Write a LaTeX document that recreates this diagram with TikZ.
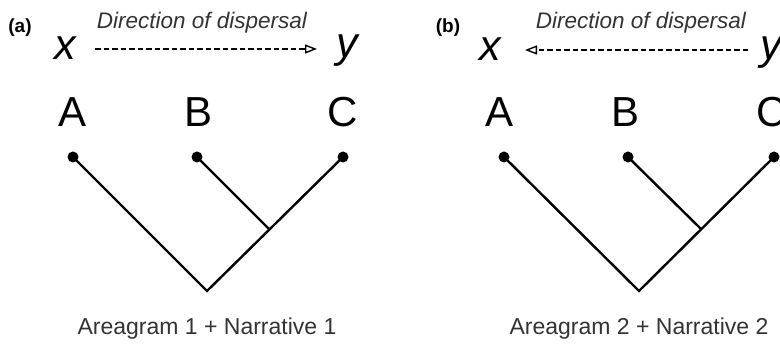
\documentclass[tikz,border=0pt]{standalone}
\usepackage{fontspec}
\setmainfont{Liberation Sans}
\usetikzlibrary{arrows.meta}

\definecolor{inkgray}{HTML}{333333}

\begin{document}
\begin{tikzpicture}[x=1pt,y=-1pt,
  panellabel/.style={inner sep=0pt,font=\fontsize{19}{19}\selectfont\bfseries},
  dirtext/.style={inner sep=0pt,anchor=base,text=inkgray,font=\fontsize{22.5}{22.5}\selectfont\itshape},
  endpoint/.style={inner sep=0pt,anchor=base,font=\fontsize{43}{43}\selectfont\itshape},
  taxon/.style={inner sep=0pt,anchor=base,font=\fontsize{42}{42}\selectfont},
  caption/.style={inner sep=0pt,anchor=base,text=inkgray,font=\fontsize{23}{23}\selectfont},
  tip/.style={circle,fill=black,inner sep=0pt,minimum size=11pt},
  branch/.style={line width=2.4pt,black},
  disperse/.style={line width=1.7pt,dash pattern=on 5.5pt off 3pt,
    -{Triangle[open,length=12pt,width=9pt,line width=1.4pt]}}
]
\useasboundingbox (0,0) rectangle (780,344);

% ---------- panel (a) ----------
\node[panellabel] (la) at (20,28) {(a)};
\node[dirtext] (da) at (202,29) {Direction of dispersal};
\node[endpoint] (xa) at (65,60) {x};
\node[endpoint] (ya) at (347,58) {y};
\coordinate (sa) at (95,49);
\coordinate (ea) at (317,49);
\draw[disperse] (sa) -- (ea);

\node[taxon] (Aa) at (73,127) {A};
\node[taxon] (Ba) at (199,127) {B};
\node[taxon] (Ca) at (343,127) {C};

\node[tip] (ta) at (73,157) {};
\node[tip] (tb) at (197,157) {};
\node[tip] (tc) at (343,157) {};
\coordinate (ra) at (207,291);
\coordinate (ja) at (269,229);
\draw[branch,line join=miter] (ta.center) -- (ra) -- (tc.center);
\draw[branch] (tb.center) -- (ja);

\node[caption] (capa) at (207,335) {Areagram 1 + Narrative 1};

% ---------- panel (b) ----------
\node[panellabel] (lb) at (448,28) {(b)};
\node[dirtext] (db) at (641,29) {Direction of dispersal};
\node[endpoint] (xb) at (490,61) {x};
\node[endpoint] (yb) at (771,60) {y};
\coordinate (sb) at (748,50);
\coordinate (eb) at (525,50);
\draw[disperse] (sb) -- (eb);

\node[taxon] (Ab) at (500,127) {A};
\node[taxon] (Bb) at (626,127) {B};
\node[taxon] (Cb) at (772,127) {C};

\node[tip] (ua) at (504,157) {};
\node[tip] (ub) at (628,157) {};
\node[tip] (uc) at (774,157) {};
\coordinate (rb) at (639,291);
\coordinate (jb) at (701,229);
\draw[branch,line join=miter] (ua.center) -- (rb) -- (uc.center);
\draw[branch] (ub.center) -- (jb);

\node[caption] (capb) at (639,335) {Areagram 2 + Narrative 2};
\end{tikzpicture}
\end{document}
